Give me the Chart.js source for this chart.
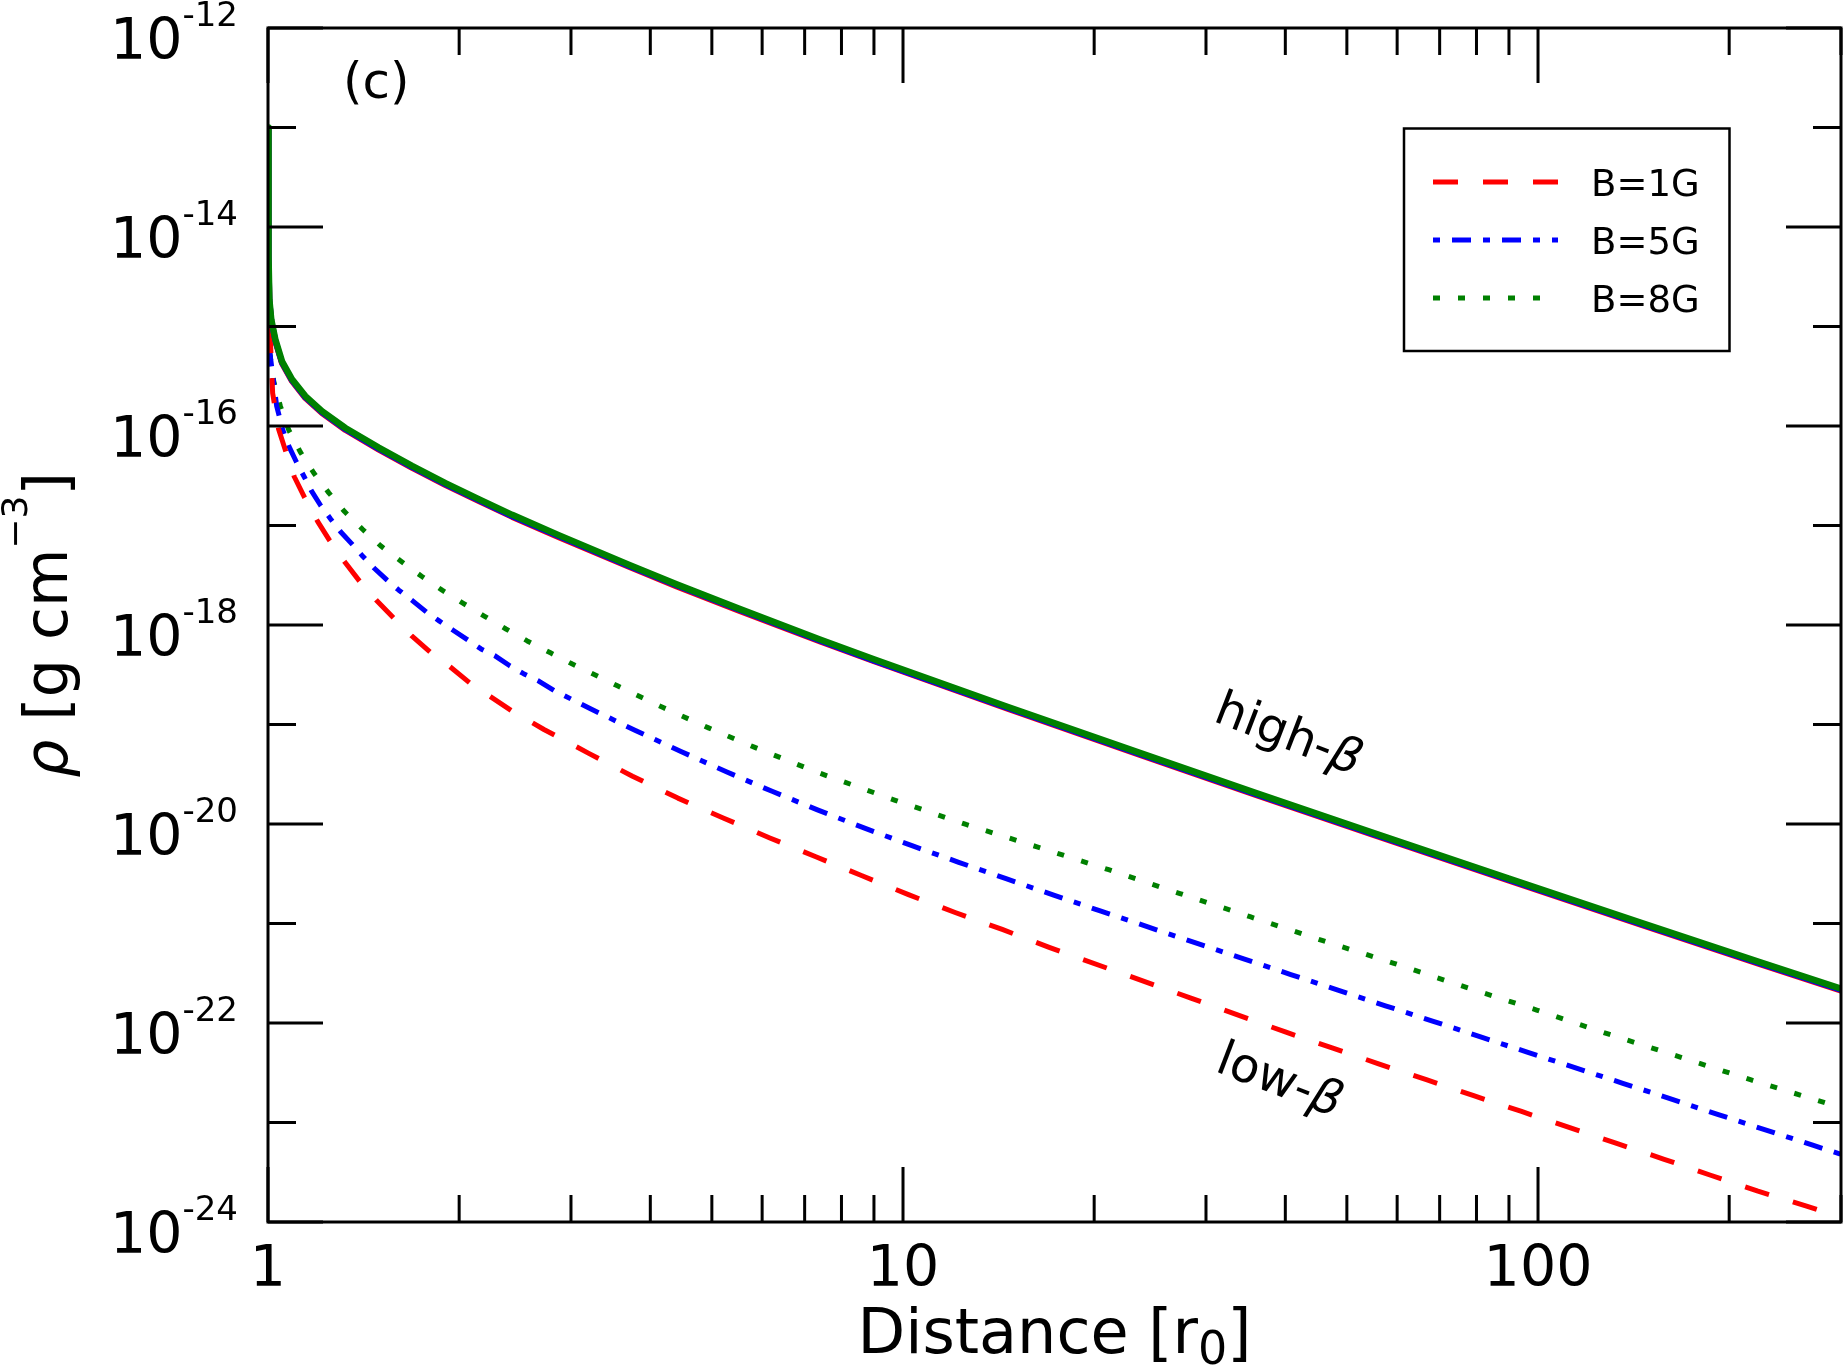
<!DOCTYPE html>
<html>
<head>
<meta charset="utf-8">
<script src="https://cdn.jsdelivr.net/npm/chart.js@4.4.1/dist/chart.umd.min.js"></script>
<style>
  html, body { margin: 0; padding: 0; background: #fff; }
  canvas { display: block; }
</style>
</head>
<body>
<canvas id="myChart" width="1843" height="1366"></canvas>
<script>
// distance in units of r0, density in g cm^-3
const hiX = [1, 1.002, 1.005, 1.012, 1.027, 1.052, 1.091, 1.145, 1.216, 1.324, 1.494, 1.686, 1.903, 2.147, 2.424, 2.87, 3.7, 4.4, 5.5, 7.4, 9, 14.6, 23.6, 36, 55, 90, 145, 224, 300];
const hiGreen = [1e-13, 5.01e-15, 1.86e-15, 1.17e-15, 7.41e-16, 4.47e-16, 2.95e-16, 2.00e-16, 1.41e-16, 9.55e-17, 6.07e-17, 3.97e-17, 2.67e-17, 1.84e-17, 1.28e-17, 8.00e-18, 4.03e-18, 2.56e-18, 1.47e-18, 7.16e-19, 4.52e-19, 1.51e-19, 5.19e-20, 2.04e-20, 8.13e-21, 2.82e-21, 1.02e-21, 4.07e-22, 2.21e-22];
const hiBlue = [9.7e-14, 4.87e-15, 1.81e-15, 1.14e-15, 7.20e-16, 4.34e-16, 2.87e-16, 1.94e-16, 1.37e-16, 9.28e-17, 5.90e-17, 3.86e-17, 2.60e-17, 1.79e-17, 1.24e-17, 7.78e-18, 3.92e-18, 2.49e-18, 1.43e-18, 6.96e-19, 4.39e-19, 1.47e-19, 5.04e-20, 1.98e-20, 7.90e-21, 2.74e-21, 9.91e-22, 3.96e-22, 2.15e-22];
const hiRed = [9.5e-14, 4.78e-15, 1.78e-15, 1.12e-15, 7.08e-16, 4.27e-16, 2.82e-16, 1.91e-16, 1.35e-16, 9.12e-17, 5.80e-17, 3.79e-17, 2.55e-17, 1.76e-17, 1.22e-17, 7.64e-18, 3.85e-18, 2.44e-18, 1.40e-18, 6.84e-19, 4.32e-19, 1.44e-19, 4.96e-20, 1.95e-20, 7.76e-21, 2.69e-21, 9.74e-22, 3.89e-22, 2.11e-22];

const loRedX = [1, 1.008, 1.017, 1.039, 1.067, 1.10, 1.142, 1.197, 1.25, 1.322, 1.398, 1.48, 1.582, 1.684, 1.806, 1.935, 2.086, 2.24, 2.43, 2.72, 3.2, 3.75, 4.42, 5.21, 6.17, 7.29, 8.62, 10.2, 12.08, 14.33, 16.99, 28.4, 40, 47.4, 56.1, 66.7, 79.2, 94.2, 111.9, 133, 158, 187, 222, 264, 300];
const loRed = [9.55e-16, 7.94e-16, 2.14e-16, 9.33e-17, 5.50e-17, 3.09e-17, 1.91e-17, 1.10e-17, 7.08e-18, 4.27e-18, 2.69e-18, 1.78e-18, 1.15e-18, 7.76e-19, 5.25e-19, 3.80e-19, 2.57e-19, 1.91e-19, 1.35e-19, 8.91e-20, 5.13e-20, 3.02e-20, 1.82e-20, 1.15e-20, 7.24e-21, 4.68e-21, 3.02e-21, 1.95e-21, 1.29e-21, 8.71e-22, 5.75e-22, 1.78e-22, 8.13e-23, 5.62e-23, 3.89e-23, 2.69e-23, 1.86e-23, 1.29e-23, 8.91e-24, 6.17e-24, 4.27e-24, 2.95e-24, 2.04e-24, 1.45e-24, 1.12e-24];

const loBlueX = [1, 1.008, 1.032, 1.055, 1.078, 1.108, 1.138, 1.17, 1.211, 1.254, 1.3, 1.353, 1.41, 1.47, 1.54, 1.607, 1.684, 1.776, 1.86, 1.954, 2.063, 2.165, 2.278, 2.403, 2.526, 2.665, 2.825, 3.22, 3.79, 4.47, 5.27, 6.22, 7.35, 8.70, 10.33, 12.24, 14.53, 17.27, 20.5, 24.3, 28.9, 34.4, 40.8, 48.4, 57.5, 68.4, 81.2, 96.4, 114.6, 136, 161.8, 192.3, 270.8, 300];
const loBlue = [9.55e-16, 5.13e-16, 1.58e-16, 9.12e-17, 6.31e-17, 4.37e-17, 3.16e-17, 2.24e-17, 1.58e-17, 1.17e-17, 8.71e-18, 6.61e-18, 4.90e-18, 3.72e-18, 2.82e-18, 2.24e-18, 1.78e-18, 1.35e-18, 1.10e-18, 8.91e-19, 7.08e-19, 5.75e-19, 4.90e-19, 3.89e-19, 3.24e-19, 2.75e-19, 2.19e-19, 1.44e-19, 8.71e-20, 5.35e-20, 3.35e-20, 2.13e-20, 1.38e-20, 9.08e-21, 6.05e-21, 4.12e-21, 2.82e-21, 1.93e-21, 1.33e-21, 9.25e-22, 6.38e-22, 4.41e-22, 3.07e-22, 2.14e-22, 1.49e-22, 1.04e-22, 7.24e-23, 5.07e-23, 3.54e-23, 2.48e-23, 1.73e-23, 1.20e-23, 5.92e-24, 4.79e-24];

const loGreenX = [1, 1.008, 1.021, 1.046, 1.078, 1.124, 1.18, 1.246, 1.32, 1.41, 1.508, 1.62, 1.745, 1.88, 2.027, 2.19, 2.37, 2.56, 2.785, 3.01, 3.27, 3.55, 3.85, 4.19, 4.94, 5.83, 6.91, 7.52, 9.72, 12.57, 16.26, 21.08, 27.3, 35.2, 45.7, 59.3, 76.9, 99.5, 128.9, 167, 216, 300];
const loGreen = [9.55e-16, 5.01e-16, 2.82e-16, 1.58e-16, 9.12e-17, 5.50e-17, 3.39e-17, 2.14e-17, 1.38e-17, 9.12e-18, 6.17e-18, 4.37e-18, 3.09e-18, 2.24e-18, 1.66e-18, 1.23e-18, 9.12e-19, 6.92e-19, 5.25e-19, 4.07e-19, 3.16e-19, 2.45e-19, 1.91e-19, 1.48e-19, 9.25e-20, 5.92e-20, 3.84e-20, 3.12e-20, 1.73e-20, 9.89e-21, 5.89e-21, 3.47e-21, 2.00e-21, 1.17e-21, 6.76e-22, 3.98e-22, 2.29e-22, 1.35e-22, 7.76e-23, 4.57e-23, 2.69e-23, 1.41e-23];

const legendLabels = ['B=1G', 'B=5G', 'B=8G'];

const xMajor = [1, 10, 100];
const xMinor = [2, 3, 4, 5, 6, 7, 8, 9, 20, 30, 40, 50, 60, 70, 80, 90, 200, 300];
const xLabels = ['1', '10', '100'];
const yMajor = [1e-12, 1e-14, 1e-16, 1e-18, 1e-20, 1e-22, 1e-24];
const yMinor = [1e-13, 1e-15, 1e-17, 1e-19, 1e-21, 1e-23];
const yExp = ['-12', '-14', '-16', '-18', '-20', '-22', '-24'];

const FONT = '"DejaVu Sans"';

function pts(xs, ys) {
    return xs.map((x, i) => ({ x: x, y: ys[i] }));
}

// draw a run of text pieces (font changes, sub/superscripts)
function drawRich(ctx, segs, x, y, align) {
    let w = 0;
    segs.forEach(s => { ctx.font = s.font; s.w = ctx.measureText(s.t).width; w += s.w; });
    let cx = align === 'center' ? x - w / 2 : (align === 'right' ? x - w : x);
    ctx.textAlign = 'left';
    segs.forEach(s => {
        ctx.font = s.font;
        ctx.fillText(s.t, cx, y + (s.dy || 0));
        cx += s.w;
    });
}

const frame = {
    id: 'frame',
    afterDatasetsDraw(chart) {
        const ctx = chart.ctx;
        const { left, right, top, bottom } = chart.chartArea;
        const xs = chart.scales.x, ys = chart.scales.y;
        ctx.save();
        ctx.strokeStyle = '#000';
        ctx.lineWidth = 3;
        ctx.setLineDash([]);
        ctx.beginPath();
        xMajor.forEach(v => {
            const p = xs.getPixelForValue(v);
            ctx.moveTo(p, bottom); ctx.lineTo(p, bottom - 55);
            ctx.moveTo(p, top); ctx.lineTo(p, top + 55);
        });
        xMinor.forEach(v => {
            const p = xs.getPixelForValue(v);
            ctx.moveTo(p, bottom); ctx.lineTo(p, bottom - 27);
            ctx.moveTo(p, top); ctx.lineTo(p, top + 27);
        });
        yMajor.forEach(v => {
            const p = ys.getPixelForValue(v);
            ctx.moveTo(left, p); ctx.lineTo(left + 55, p);
            ctx.moveTo(right, p); ctx.lineTo(right - 55, p);
        });
        yMinor.forEach(v => {
            const p = ys.getPixelForValue(v);
            ctx.moveTo(left, p); ctx.lineTo(left + 28, p);
            ctx.moveTo(right, p); ctx.lineTo(right - 28, p);
        });
        ctx.stroke();
        ctx.strokeRect(left, top, right - left, bottom - top);

        ctx.fillStyle = '#000';
        ctx.textBaseline = 'alphabetic';
        // y tick labels 10^n
        yMajor.forEach((v, i) => {
            const p = ys.getPixelForValue(v);
            drawRich(ctx, [
                { t: '10', font: '57px ' + FONT, dy: 31 },
                { t: yExp[i], font: '34px ' + FONT, dy: -2 }
            ], left - 30, p, 'right');
        });
        // x tick labels
        ctx.font = '57px ' + FONT;
        ctx.textAlign = 'center';
        xMajor.forEach((v, i) => {
            ctx.fillText(xLabels[i], xs.getPixelForValue(v), bottom + 64);
        });

        // axis titles
        const midX = (left + right) / 2;
        drawRich(ctx, [
            { t: 'Distance [r', font: '62px ' + FONT },
            { t: '0', font: '46px ' + FONT, dy: 11 },
            { t: ']', font: '62px ' + FONT }
        ], midX, bottom + 131, 'center');

        ctx.save();
        ctx.translate(67, (top + bottom) / 2);
        ctx.rotate(-Math.PI / 2);
        drawRich(ctx, [
            { t: 'ρ', font: 'italic 60px ' + FONT },
            { t: ' [g cm', font: '60px ' + FONT },
            { t: '−3', font: '36px ' + FONT, dy: -40 },
            { t: ']', font: '60px ' + FONT }
        ], 0, 0, 'center');
        ctx.restore();

        // panel tag and curve notes
        ctx.font = '50px ' + FONT;
        ctx.textAlign = 'left';
        ctx.fillText('(c)', 343, 98);

        const ang = 21 * Math.PI / 180;
        [['high-', 1288, 736], ['low-', 1279, 1082]].forEach(n => {
            ctx.save();
            ctx.translate(n[1], n[2]);
            ctx.rotate(ang);
            drawRich(ctx, [
                { t: n[0], font: '48px ' + FONT },
                { t: 'β', font: 'italic 48px ' + FONT }
            ], 0, 13, 'center');
            ctx.restore();
        });

        // legend box
        ctx.lineWidth = 2.5;
        ctx.strokeRect(1404, 128.5, 325.5, 222.5);
        const rows = [182, 240, 298];
        [3, 4, 5].forEach((di, i) => {
            const ds = chart.data.datasets[di];
            ctx.strokeStyle = ds.borderColor;
            ctx.lineWidth = ds.borderWidth;
            ctx.setLineDash(ds.borderDash);
            ctx.beginPath();
            ctx.moveTo(1433, rows[i]);
            ctx.lineTo(1558, rows[i]);
            ctx.stroke();
            ctx.setLineDash([]);
            ctx.font = '37px ' + FONT;
            ctx.textAlign = 'left';
            ctx.fillText(legendLabels[i], 1591, rows[i] + 14);
        });
        ctx.restore();
    }
};

const solid = { pointRadius: 0, tension: 0, fill: false, borderCapStyle: 'butt', borderJoinStyle: 'round' };

const config = {
    type: 'line',
    data: {
        datasets: [
            Object.assign({ label: 'high B=8G', data: pts(hiX, hiGreen), borderColor: '#008000', borderWidth: 6.5 }, solid),
            Object.assign({ label: 'high B=5G', data: pts(hiX, hiBlue), borderColor: '#0000ff', borderWidth: 6 }, solid),
            Object.assign({ label: 'high B=1G', data: pts(hiX, hiRed), borderColor: '#ff0000', borderWidth: 6 }, solid),
            Object.assign({ label: legendLabels[0], data: pts(loRedX, loRed), borderColor: '#ff0000', borderWidth: 5, borderDash: [25, 25] }, solid),
            Object.assign({ label: legendLabels[1], data: pts(loBlueX, loBlue), borderColor: '#0000ff', borderWidth: 5, borderDash: [7, 12, 19, 12] }, solid),
            Object.assign({ label: legendLabels[2], data: pts(loGreenX, loGreen), borderColor: '#008000', borderWidth: 5, borderDash: [7, 18] }, solid)
        ]
    },
    options: {
        responsive: false,
        animation: false,
        devicePixelRatio: 1,
        layout: { padding: { left: 268, right: 2, top: 28, bottom: 144 } },
        plugins: { legend: { display: false }, tooltip: { enabled: false } },
        scales: {
            x: {
                type: 'logarithmic', min: 1, max: 300,
                ticks: { display: false },
                grid: { display: false, drawTicks: false },
                border: { display: false }
            },
            y: {
                type: 'logarithmic', min: 1e-24, max: 1e-12,
                ticks: { display: false },
                grid: { display: false, drawTicks: false },
                border: { display: false }
            }
        }
    },
    plugins: [frame]
};

const myChart = new Chart(document.getElementById('myChart'), config);
</script>
</body>
</html>
